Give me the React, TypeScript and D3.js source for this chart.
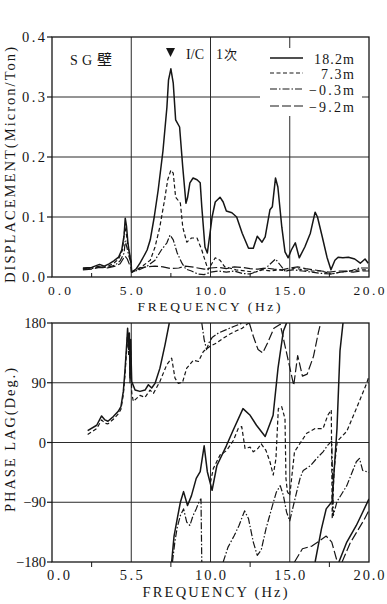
import React from "react";
import * as d3 from "d3";

// ---------- axis ticks / labels ----------
const freqTicks = [0, 5, 10, 15, 20];
const freqLabelsTop = ["0.0", "5.0", "10.0", "15.0", "20.0"];
const freqLabelsBot = ["0.0", "5.5", "10.0", "15.0", "20.0"];
const minorFreqTicks = [2.5, 7.5, 12.5, 17.5];
const dispTicks = [0, 0.1, 0.2, 0.3, 0.4];
const dispLabels = ["0.0", "0.1", "0.2", "0.3", "0.4"];
const phaseTicks = [-180, -90, 0, 90, 180];
const phaseLabels = ["\u2212180", "\u221290", "0", "90", "180"];
const legendLabels = ["18.2m", "7.3m", "\u22120.3m", "\u22129.2m"];

// ---------- displacement (Micron/Ton) vs frequency (Hz) ----------
const disp182: [number, number][] = [
  [1.95, 0.015], [2.5, 0.016], [3.0, 0.021], [3.3, 0.018], [3.6, 0.022], [3.9, 0.027], [4.2, 0.033], [4.4, 0.045],
  [4.55, 0.07], [4.62, 0.098], [4.7, 0.085], [4.78, 0.06], [4.85, 0.045], [4.92, 0.035], [5.0, 0.02], [5.02, 0.008],
  [5.3, 0.013], [5.55, 0.023], [5.8, 0.035], [6.0, 0.045], [6.2, 0.062], [6.45, 0.1], [6.7, 0.145], [7.0, 0.21],
  [7.25, 0.283], [7.35, 0.328], [7.5, 0.347], [7.65, 0.323], [7.8, 0.262], [8.05, 0.25], [8.25, 0.183], [8.45, 0.123],
  [8.55, 0.132], [8.7, 0.157], [8.9, 0.165], [9.15, 0.162], [9.35, 0.157], [9.45, 0.117], [9.65, 0.05], [9.8, 0.04],
  [9.97, 0.073], [10.1, 0.1], [10.3, 0.125], [10.6, 0.133], [10.8, 0.125], [11.0, 0.11], [11.35, 0.107], [11.65, 0.1],
  [12.0, 0.073], [12.4, 0.048], [12.7, 0.048], [12.95, 0.068], [13.25, 0.058], [13.45, 0.067], [13.75, 0.112],
  [13.9, 0.117], [14.1, 0.165], [14.25, 0.15], [14.5, 0.083], [14.7, 0.042], [14.9, 0.032], [15.1, 0.045],
  [15.35, 0.057], [15.6, 0.032], [15.95, 0.05], [16.3, 0.073], [16.6, 0.108], [16.75, 0.1], [17.05, 0.067],
  [17.35, 0.033], [17.6, 0.012], [17.85, 0.028], [18.05, 0.033], [18.35, 0.032], [18.7, 0.033], [19.1, 0.03],
  [19.45, 0.023], [19.75, 0.03], [19.95, 0.023],
];
const disp73: [number, number][] = [
  [1.95, 0.014], [2.5, 0.015], [3.0, 0.018], [3.3, 0.016], [3.6, 0.019], [3.9, 0.023], [4.2, 0.03], [4.45, 0.045],
  [4.6, 0.083], [4.7, 0.07], [4.8, 0.05], [4.9, 0.035], [5.0, 0.025], [5.02, 0.008], [5.4, 0.012], [5.8, 0.02],
  [6.2, 0.028], [6.5, 0.05], [6.8, 0.083], [7.1, 0.128], [7.3, 0.162], [7.5, 0.178], [7.65, 0.173], [7.8, 0.133],
  [8.1, 0.123], [8.25, 0.083], [8.5, 0.058], [8.8, 0.065], [9.15, 0.065], [9.45, 0.045], [9.65, 0.028], [9.85, 0.012],
  [10.1, 0.023], [10.3, 0.032], [10.6, 0.028], [10.9, 0.017], [11.2, 0.015], [11.6, 0.012], [12.2, 0.01], [12.8, 0.008],
  [13.3, 0.012], [13.8, 0.01], [14.3, 0.012], [14.8, 0.01], [15.3, 0.015], [15.8, 0.012], [16.4, 0.01], [17.0, 0.01],
  [17.6, 0.005], [18.2, 0.008], [18.8, 0.01], [19.4, 0.012], [20, 0.012],
];
const disp03: [number, number][] = [
  [1.95, 0.013], [2.5, 0.014], [3.0, 0.017], [3.5, 0.016], [4.0, 0.02], [4.3, 0.027], [4.55, 0.04], [4.62, 0.06],
  [4.72, 0.05], [4.85, 0.035], [5.0, 0.022], [5.02, 0.008], [5.5, 0.012], [6.0, 0.018], [6.5, 0.028], [6.9, 0.045],
  [7.25, 0.057], [7.45, 0.07], [7.65, 0.062], [7.9, 0.04], [8.2, 0.023], [8.45, 0.013], [8.8, 0.01], [9.2, 0.005],
  [9.6, 0.004], [10.0, 0.008], [10.5, 0.01], [11.0, 0.008], [11.5, 0.01], [12.0, 0.006], [12.5, 0.005], [13.0, 0.01],
  [13.5, 0.015], [13.9, 0.025], [14.1, 0.03], [14.4, 0.02], [14.7, 0.01], [15.2, 0.012], [15.8, 0.01], [16.4, 0.008],
  [17.0, 0.006], [17.6, 0.005], [18.2, 0.008], [18.8, 0.01], [19.4, 0.015], [20, 0.015],
];
const disp92: [number, number][] = [
  [1.95, 0.012], [2.5, 0.013], [3.0, 0.016], [3.5, 0.015], [4.0, 0.018], [4.3, 0.022], [4.6, 0.035], [4.75, 0.03],
  [4.9, 0.02], [5.0, 0.015], [5.02, 0.008], [5.5, 0.015], [6.0, 0.017], [6.5, 0.018], [7.0, 0.017], [7.5, 0.014],
  [8.0, 0.015], [8.4, 0.018], [8.8, 0.017], [9.2, 0.015], [9.6, 0.013], [10.0, 0.015], [10.5, 0.016], [11.0, 0.014],
  [11.5, 0.017], [12.0, 0.016], [12.5, 0.014], [13.0, 0.013], [13.5, 0.015], [14.0, 0.013], [14.5, 0.012],
  [15.0, 0.015], [15.5, 0.017], [16.0, 0.014], [16.5, 0.012], [17.0, 0.01], [17.5, 0.008], [18.0, 0.01],
  [18.5, 0.01], [19.0, 0.008], [19.5, 0.01], [20, 0.01],
];

// ---------- phase lag (deg) vs frequency (Hz), wrapped segments ----------
const phase182: [number, number][][] = [
  [[2.25, 18], [2.82, 26], [3.13, 40], [3.34, 34], [3.53, 32], [3.87, 39], [4.18, 47], [4.35, 54], [4.5, 77],
   [4.6, 107], [4.71, 147], [4.77, 172], [4.84, 140], [4.88, 165], [4.92, 97], [4.96, 155], [5.03, 92], [5.24, 79],
   [5.55, 77], [5.87, 79], [6.08, 87], [6.29, 82], [6.5, 89], [6.81, 112], [7.13, 147], [7.4, 180]],
  [[7.55, -180], [7.7, -141], [7.9, -115], [8.1, -90], [8.3, -74], [8.55, -95], [8.8, -80], [9.1, -54], [9.35, -44],
   [9.6, -5], [9.8, -44], [10.1, -72], [10.4, -35], [11.0, -5], [11.4, 17], [12.05, 51], [12.5, 41], [12.9, 26],
   [13.45, 9], [13.95, 41], [14.26, 112], [14.6, 168], [14.8, 180]],
  [[16.6, -180], [17.0, -130], [17.3, -100], [17.67, -89], [17.98, 21], [18.17, 138], [18.36, 180]],
  [[18.1, -180], [18.6, -150], [19.2, -125], [19.6, -105], [20, -85]],
];
const phase73: [number, number][][] = [
  [[2.25, 12], [2.82, 21], [3.13, 34], [3.34, 29], [3.53, 28], [3.87, 35], [4.18, 43], [4.35, 50], [4.5, 72],
   [4.6, 100], [4.71, 140], [4.77, 165], [4.84, 130], [4.88, 158], [4.92, 90], [4.96, 140], [5.03, 75], [5.13, 62],
   [5.55, 71], [5.87, 68], [6.18, 79], [6.4, 74], [6.81, 92], [7.24, 117], [7.55, 127], [7.76, 97], [7.97, 89],
   [8.24, 91], [8.5, 112], [8.92, 124], [9.24, 122], [9.55, 137], [9.97, 145], [10.39, 150], [10.8, 157],
   [11.2, 163], [11.6, 168], [12.0, 172], [12.3, 178], [12.5, 181]],
  [[10.0, -60], [10.18, -39], [10.6, -19], [11.02, -12], [11.44, 3], [11.75, 21], [11.97, 24], [12.18, -9],
   [12.5, -7], [12.7, -14], [12.99, -9], [13.2, -2], [13.5, -12], [13.75, -29], [13.96, -49], [14.13, -24],
   [14.28, 51], [14.49, 54], [14.7, 36], [14.76, -54], [14.85, -74], [15.0, -80], [15.3, -14], [16.07, 14],
   [16.6, 21], [17.1, 21], [17.4, 41], [17.62, 49], [17.68, -115], [17.8, -40], [18.0, 2], [18.6, 17],
   [19.2, 51], [19.85, 89], [20, 100]],
];
const phase03: [number, number][][] = [
  [[7.6, -180], [7.75, -150], [7.9, -128], [8.1, -110], [8.3, -100], [8.5, -120], [8.7, -125], [8.9, -110],
   [9.1, -100], [9.3, -88], [9.4, -85], [9.45, -180]],
  [[9.45, 180], [9.6, 155], [9.75, 140], [9.9, 150], [10.1, 158], [10.5, 165], [11.0, 170], [11.5, 175], [12.0, 180]],
  [[10.8, -180], [11.1, -158], [11.5, -140], [11.8, -125], [12.15, -103], [12.4, -115], [12.7, -150], [12.95, -170],
   [13.2, -162], [13.5, -130], [13.85, -100], [14.15, -75], [14.4, -65], [14.6, -80], [14.8, -105], [15.0, -118],
   [15.43, -75], [15.65, -54], [15.85, -42], [16.3, -35], [16.7, -24], [17.1, -14], [17.4, -4], [17.65, 2],
   [17.75, -110], [17.98, -89], [18.6, -65], [19.2, -29], [19.4, -24], [19.6, -42], [20, -45]],
];
const phase92: [number, number][][] = [
  [[12.45, 180], [12.7, 160], [13.0, 140], [13.3, 135], [13.6, 150], [14.0, 172], [14.4, 178], [14.8, 135],
   [15.25, 86], [15.5, 131], [15.8, 100], [16.1, 103], [16.5, 130], [16.8, 165], [16.95, 180]],
  [[15.3, -180], [15.8, -160], [16.4, -156], [17.3, -141], [17.65, -150], [18.0, -180]],
  [[18.3, -180], [18.8, -152], [19.3, -132], [19.7, -116], [20, -102]],
];

// ---------- layout ----------
const W = 387, H = 604;
const X0 = 52, X1 = 369;
const TOP_Y0 = 37, TOP_Y1 = 277;
const BOT_Y0 = 323, BOT_Y1 = 562;
const INK = "#161616";
const FONT = "'Liberation Serif', 'DejaVu Serif', serif";

type Style = { dash?: string; width: number };
const styles: Style[] = [
  { width: 1.5 },
  { dash: "4,2.5", width: 1.2 },
  { dash: "7,2,1.5,2", width: 1.2 },
  { dash: "9,3", width: 1.2 },
];

export default function App() {
  const x = d3.scaleLinear().domain([0, 20]).range([X0, X1]);
  const yTop = d3.scaleLinear().domain([0, 0.4]).range([TOP_Y1, TOP_Y0]);
  const yBot = d3.scaleLinear().domain([-180, 180]).range([BOT_Y1, BOT_Y0]);
  const lineTop = d3.line<[number, number]>().x((d) => x(d[0])).y((d) => yTop(d[1]));
  const lineBot = d3.line<[number, number]>().x((d) => x(d[0])).y((d) => yBot(d[1]));

  const topSeries = [disp182, disp73, disp03, disp92];
  const botSeries = [phase182, phase73, phase03, phase92];

  const legendRows = [58, 73, 89, 106];
  const legendLens = [40, 33, 45, 45];

  const tickLabelLen = (s: string) => (s.length >= 4 ? 31 : 23);

  return (
    <svg width={W} height={H} style={{ position: "absolute", left: 0, top: 0, background: "#fff" }}
      fontFamily={FONT}>
      <defs>
        <clipPath id="clipTop"><rect x={X0} y={TOP_Y0} width={X1 - X0} height={TOP_Y1 - TOP_Y0} /></clipPath>
        <clipPath id="clipBot"><rect x={X0} y={BOT_Y0} width={X1 - X0} height={BOT_Y1 - BOT_Y0} /></clipPath>
      </defs>
      <rect x={0} y={0} width={W} height={H} fill="#fff" />

      {/* ===== TOP PANEL ===== */}
      {dispTicks.slice(1, 4).map((t) => (
        <line key={"gh" + t} x1={X0} x2={X1} y1={yTop(t)} y2={yTop(t)} stroke="#2a2a2a" strokeWidth={1} />
      ))}
      {freqTicks.slice(1, 4).map((t) => (
        <line key={"gv" + t} x1={x(t)} x2={x(t)} y1={TOP_Y0} y2={TOP_Y1} stroke="#2a2a2a" strokeWidth={1} />
      ))}
      {minorFreqTicks.map((t) => (
        <line key={"mt" + t} x1={x(t)} x2={x(t)} y1={TOP_Y1} y2={TOP_Y1 - 4} stroke={INK} strokeWidth={1} />
      ))}
      {/* legend background */}
      <rect x={260} y={48} width={102} height={68} fill="#fff" />
      <g clipPath="url(#clipTop)">
        {topSeries.map((s, i) => (
          <path key={"ts" + i} d={lineTop(s) || ""} fill="none" stroke={INK} strokeWidth={styles[i].width}
            strokeDasharray={styles[i].dash} strokeLinejoin="round" />
        ))}
      </g>
      <rect x={X0} y={TOP_Y0} width={X1 - X0} height={TOP_Y1 - TOP_Y0} fill="none" stroke={INK} strokeWidth={1.3} />
      {dispTicks.map((t, i) => (
        <g key={"yt" + t}>
          <line x1={X0 - 5} x2={X0} y1={yTop(t)} y2={yTop(t)} stroke={INK} strokeWidth={1.2} />
          <text x={45} y={yTop(t) + 5} textAnchor="end" fontSize={14.5} fill={INK}
            textLength={23} lengthAdjust="spacing">{dispLabels[i]}</text>
        </g>
      ))}
      {freqTicks.map((t, i) => (
        <text key={"xt" + t} x={i === 0 ? x(t) - 4 : x(t)} y={294.5} textAnchor={i === 0 ? "start" : "middle"}
          fontSize={13.5} fill={INK} textLength={tickLabelLen(freqLabelsTop[i])} lengthAdjust="spacing">
          {freqLabelsTop[i]}
        </text>
      ))}
      <text x={209} y={310.5} textAnchor="middle" fontSize={13.5} fill={INK} textLength={143} lengthAdjust="spacing">
        FREQUENCY (Hz)
      </text>
      <text transform="translate(15,165) rotate(-90)" textAnchor="middle" fontSize={14.5} fill={INK}
        textLength={236} lengthAdjust="spacing">DISPLACEMENT(Micron/Ton)</text>

      {/* annotations */}
      <text x={70} y={65} fontSize={14} fill={INK}>S</text>
      <text x={82} y={65} fontSize={14} fill={INK}>G</text>
      <text x={97} y={65} fontSize={15} fill={INK} fontFamily="'Noto Sans CJK JP', sans-serif">壁</text>
      <path d="M166,48 L175,48 L170.5,57 Z" fill={INK} />
      <text x={186} y={59} fontSize={14} fill={INK} textLength={18} lengthAdjust="spacing">I/C</text>
      <text x={216} y={59} fontSize={14} fill={INK}>1</text>
      <text x={224} y={59} fontSize={13} fill={INK} fontFamily="'Noto Sans CJK JP', sans-serif">次</text>

      {/* legend */}
      {legendLabels.map((lab, i) => (
        <g key={"lg" + i}>
          <line x1={270} x2={303} y1={legendRows[i]} y2={legendRows[i]} stroke={INK} strokeWidth={styles[i].width}
            strokeDasharray={styles[i].dash} />
          <text x={354} y={legendRows[i] + 6} textAnchor="end" fontSize={14} fill={INK}
            textLength={legendLens[i]} lengthAdjust="spacing">{lab}</text>
        </g>
      ))}

      {/* ===== BOTTOM PANEL ===== */}
      {phaseTicks.slice(1, 4).map((t) => (
        <line key={"bgh" + t} x1={X0} x2={X1} y1={yBot(t)} y2={yBot(t)} stroke="#2a2a2a" strokeWidth={1} />
      ))}
      {freqTicks.slice(1, 4).map((t) => (
        <line key={"bgv" + t} x1={x(t)} x2={x(t)} y1={BOT_Y0} y2={BOT_Y1} stroke="#2a2a2a" strokeWidth={1} />
      ))}
      {minorFreqTicks.map((t) => (
        <line key={"bmt" + t} x1={x(t)} x2={x(t)} y1={BOT_Y1} y2={BOT_Y1 + 5} stroke={INK} strokeWidth={1} />
      ))}
      <g clipPath="url(#clipBot)">
        {botSeries.map((segs, i) =>
          segs.map((seg, j) => (
            <path key={"bs" + i + "_" + j} d={lineBot(seg) || ""} fill="none" stroke={INK}
              strokeWidth={styles[i].width} strokeDasharray={styles[i].dash} strokeLinejoin="round" />
          ))
        )}
      </g>
      <rect x={X0} y={BOT_Y0} width={X1 - X0} height={BOT_Y1 - BOT_Y0} fill="none" stroke={INK} strokeWidth={1.3} />
      {phaseTicks.map((t, i) => (
        <g key={"pt" + t}>
          <line x1={X0 - 5} x2={X0} y1={yBot(t)} y2={yBot(t)} stroke={INK} strokeWidth={1.2} />
          <text x={46} y={yBot(t) + 5} textAnchor="end" fontSize={14.5} fill={INK}>{phaseLabels[i]}</text>
        </g>
      ))}
      {freqTicks.map((t, i) => (
        <text key={"bxt" + t} x={i === 0 ? x(t) - 5 : x(t)} y={580} textAnchor={i === 0 ? "start" : "middle"}
          fontSize={14.5} fill={INK} textLength={tickLabelLen(freqLabelsBot[i])} lengthAdjust="spacing">
          {freqLabelsBot[i]}
        </text>
      ))}
      <text x={215} y={597} textAnchor="middle" fontSize={14.5} fill={INK} textLength={145} lengthAdjust="spacing">
        FREQUENCY (Hz)
      </text>
      <text transform="translate(15,440) rotate(-90)" textAnchor="middle" fontSize={14.5} fill={INK}
        textLength={144} lengthAdjust="spacing">PHASE LAG(Deg.)</text>
    </svg>
  );
}
